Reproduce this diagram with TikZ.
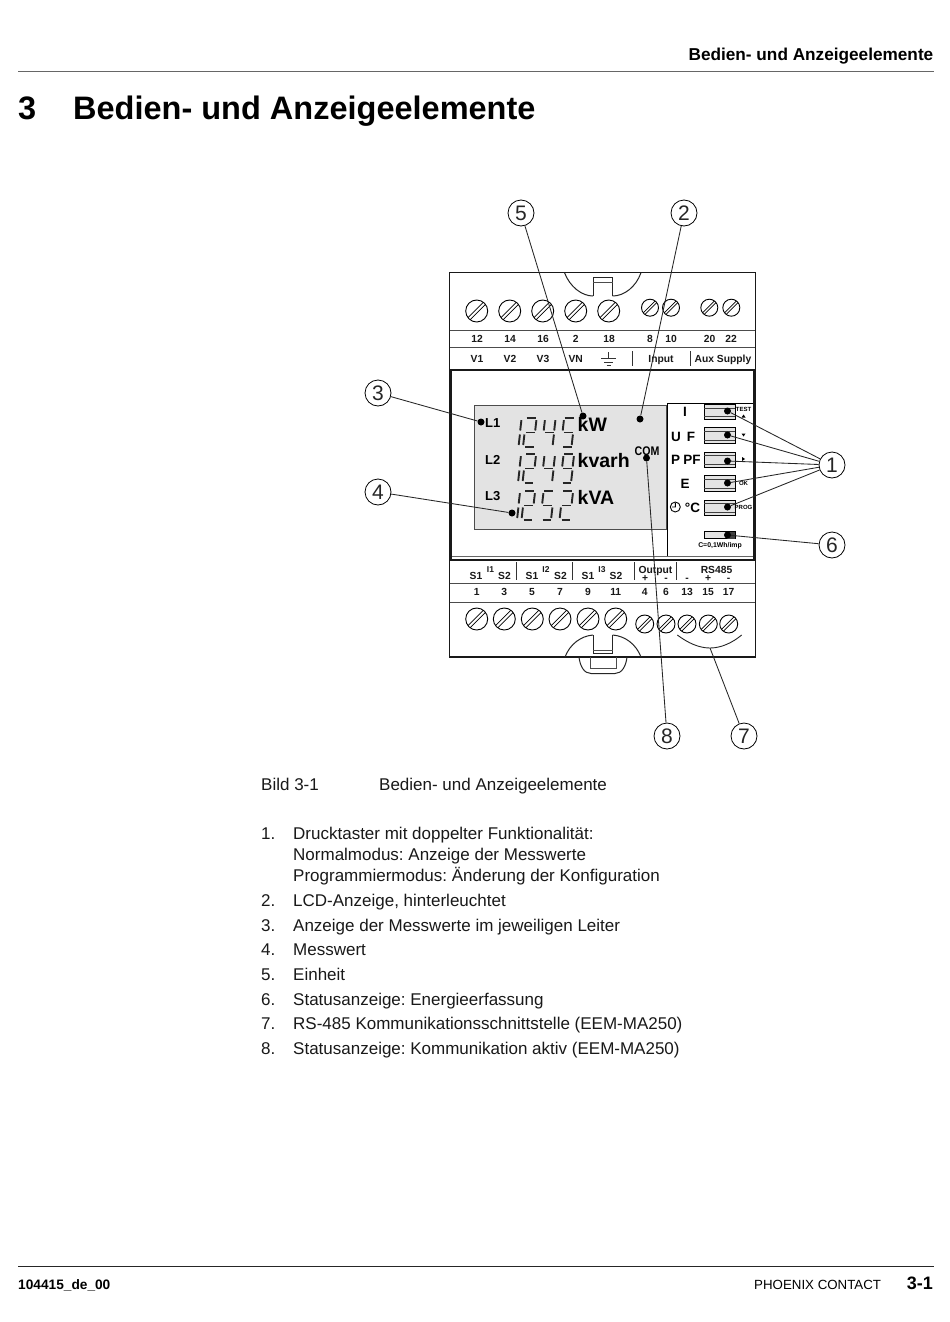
\documentclass[tikz,border=0pt]{standalone}
\usepackage{fontspec}
\setmainfont{Liberation Sans}
\frenchspacing
\newcommand{\fs}[1]{\fontsize{#1}{#1}\selectfont}
\newcommand{\screw}[3]{\begin{scope}[shift={(#1,#2)}]
 \draw[screwline,fill=white] (0,0) circle (#3);
 \draw[screwline,line width=0.7pt] (-#3*0.8,#3*0.6) -- (#3*0.6,-#3*0.8);
 \draw[screwline,line width=0.7pt] (-#3*0.6,#3*0.8) -- (#3*0.8,-#3*0.6);
\end{scope}}
\newcommand{\SgA}{\draw[sg] (3.6,0)--(12.6,0);}
\newcommand{\SgB}{\draw[sg] (13.4,2.2)--(12.2,12.5);}
\newcommand{\SgC}{\draw[sg] (11.9,16.5)--(10.7,27);}
\newcommand{\SgD}{\draw[sg] (2,29)--(10.5,29);}
\newcommand{\SgE}{\draw[sg] (1.4,16.5)--(0.2,27);}
\newcommand{\SgF}{\draw[sg] (2.9,2.2)--(1.7,12.5);}
\newcommand{\SgG}{\draw[sg] (2.8,14.5)--(11.5,14.5);}
\newcommand{\drow}[4]{\begin{scope}[shift={(#1,#2)}]
 \begin{scope}[shift={(508,0)}]\SgB\SgC\end{scope}
 \begin{scope}[shift={(523,0)}]\SgA\SgB\SgG\SgE\SgD\end{scope}
 \begin{scope}[shift={(542,0)}]#3\end{scope}
 \begin{scope}[shift={(561,0)}]#4\end{scope}
\end{scope}}
\newcommand{\btn}[2]{\draw[btnline,fill=lcdgray] (704,#1) rectangle (735,#2);
 \draw[line width=0.6pt,black!75] (704,#1+3.5) -- (735,#1+3.5);
 \draw[line width=0.6pt,black!75] (704,#2-3) -- (735,#2-3);}
\tikzset{x=1pt,y=-1pt,
 screwline/.style={line width=0.9pt,black},
 sg/.style={line width=1.9pt,black!85},
 btnline/.style={line width=0.9pt,black},
 dev/.style={line width=1pt,black!85},
 devthin/.style={line width=0.9pt,black!70},
 lbl/.style={font=\fs{10.3}\bfseries,anchor=base,inner sep=0pt,text=black!90},
 plbl/.style={font=\fs{13.5}\bfseries,anchor=base,inner sep=0pt},
 tiny/.style={font=\fs{6}\bfseries,anchor=base,inner sep=0pt,text=black},
 lcdlbl/.style={font=\fs{19.5}\bfseries,anchor=base west,inner sep=0pt},
 body/.style={font=\fs{17},anchor=base west,inner sep=0pt,text=black!90},
 callout/.style={circle,draw=black,line width=0.8pt,fill=white,minimum size=26pt,inner sep=0pt,font=\fs{21},text=black!85},
 lead/.style={line width=0.85pt,black!85},
 pt/.style={circle,fill=black,minimum size=7pt,inner sep=0pt},
 sep/.style={line width=0.9pt,black!80}}
\definecolor{lcdgray}{gray}{0.89}
\begin{document}
\begin{tikzpicture}
\useasboundingbox (0,0) rectangle (950,1322);
\fill[white] (0,0) rectangle (950,1322);
% page furniture
\node[font=\fs{17.2}\bfseries,anchor=base east,inner sep=0pt] (hdr) at (933.5,60.5) {Bedien- und Anzeigeelemente};
\draw[line width=0.9pt,black!60] (18,71.5) -- (934,71.5);
\node[font=\fs{32.5}\bfseries,anchor=base west,inner sep=0pt] (n3) at (18,119.5) {3};
\node[font=\fs{32.5}\bfseries,anchor=base west,inner sep=0pt] (title) at (73,119.5) {Bedien- und Anzeigeelemente};
\draw[line width=1pt,black!85] (18,1266.5) -- (934,1266.5);
\node[font=\fs{13.7}\bfseries,anchor=base west,inner sep=0pt] (f1) at (18,1289) {104415\_de\_00};
\node[font=\fs{13.3},anchor=base west,inner sep=0pt] (f2) at (754,1289) {PHOENIX CONTACT};
\node[font=\fs{18}\bfseries,anchor=base east,inner sep=0pt] (f3) at (933,1289) {3-1};
% device body
\draw[line width=1.4pt,black!90] (449.5,272.7) rectangle (755.3,657);
\draw[devthin] (449.5,330.7) -- (755.3,330.7);
\draw[devthin] (449.5,347.7) -- (755.3,347.7);
\draw[devthin] (449.5,583) -- (755.3,583);
\draw[devthin] (449.5,602) -- (755.3,602);
% top clip
\draw[dev] (564.5,272.7) .. controls (570,287) and (582,296) .. (593,296);
\draw[dev] (641,272.7) .. controls (636,287) and (624,296) .. (612.7,296);
\draw[dev] (593,296) -- (593,277.5) -- (612.7,277.5) -- (612.7,296);
\draw[devthin] (593,282) -- (612.7,282);
% bottom clip
\draw[dev] (565,657) .. controls (570,644) and (581,636) .. (593,635);
\draw[dev] (641,657) .. controls (636,644) and (625,636) .. (612.7,635);
\draw[dev] (593,635) -- (593,653) -- (612.7,653) -- (612.7,635);
\draw[devthin] (593,650) -- (612.7,650);
\draw[dev] (579,657) .. controls (580,666) and (584,673.5) .. (591,673.5) -- (615,673.5) .. controls (622,673.5) and (626,666) .. (627,657);
\draw[devthin] (590,657) -- (590,668) -- (616,668) -- (616,657);
% screws
\foreach \x in {476.7,509.7,542.7,575.7,608.7} {\screw{\x}{311}{11}}
\foreach \x in {650,671,709.3,731.3} {\screw{\x}{307.7}{8.5}}
\foreach \x in {476.7,504.3,532.3,560,588,615.7} {\screw{\x}{619}{11}}
\foreach \x in {644.7,666,687,708.3,728.7} {\screw{\x}{624}{9}}
% top labels
\foreach \x/\t in {477/12,510/14,543/16,575.7/2,609/18,650/8,671/10,709.7/20,731/22} {\node[lbl] at (\x,342.8) {\t};}
\foreach \x/\t in {477/V1,510/V2,543/V3,575.7/VN,661/Input,723/Aux Supply} {\node[lbl] at (\x,362) {\t};}
\draw[sep] (608.5,352) -- (608.5,358) (601,358) -- (616,358) (604,362) -- (613,362) (606.5,365.5) -- (610.5,365.5);
\draw[sep] (632,351) -- (632,366) (690.7,351) -- (690.7,366);
% lower labels
\foreach \x/\t in {476/S1,504.5/S2,532/S1,560.5/S2,588/S1,616/S2} {\node[lbl] at (\x,579) {\t};}
\foreach \x/\t in {490.5/I1,546/I2,602/I3} {\node[lbl,font=\fs{8.5}\bfseries] at (\x,572.5) {\t};}
\node[lbl] at (655.5,573) {Output};
\node[lbl] at (716.5,573) {RS485};
\foreach \x/\t in {645/+,666/-,687/-,708/+,728.7/-} {\node[lbl] at (\x,581.5) {\t};}
\foreach \x/\t in {476.7/1,504.3/3,532/5,560/7,588/9,615.7/11,644.7/4,666/6,687/13,708/15,728.7/17} {\node[lbl] at (\x,595.7) {\t};}
\draw[sep] (516.7,562) -- (516.7,580) (572,562) -- (572,580) (634.7,562) -- (634.7,580) (676.7,562) -- (676.7,580);
% display frame
\draw[line width=2.6pt,black!90] (451,370) rectangle (753.8,560);
\draw[line width=0.7pt,black!60] (452,556) -- (752.5,556);
% LCD
\draw[line width=0.9pt,black!70,fill=lcdgray] (474,405) rectangle (666.7,529);
% right panel
\draw[line width=1.1pt,black] (667.5,556) -- (667.5,403.3) -- (752.5,403.3);
% digits
\drow{0}{418}{\SgF\SgB\SgG\SgC}{\SgA\SgF\SgG\SgC\SgD}
\drow{-0.5}{454}{\SgF\SgB\SgG\SgC}{\SgA\SgF\SgB\SgG\SgC\SgD}
\drow{-1.5}{491}{\SgA\SgF\SgG\SgC\SgD}{\SgA\SgB\SgG\SgE\SgD}
% LCD labels
\foreach \y/\t in {427/L1,464/L2,500/L3} {\node[font=\fs{13}\bfseries,anchor=base west,inner sep=0pt] at (485,\y) {\t};}
\node[lcdlbl] at (577.5,431.5) {kW};
\node[lcdlbl] at (577.5,467) {kvarh};
\node[lcdlbl] at (577.5,504) {kVA};
\node[font=\fs{12.5}\bfseries,anchor=center,inner sep=0pt,xscale=0.85] at (647,451) {COM};
% panel labels
\node[plbl] at (685,416) {I};
\node[plbl] at (676,441) {U};
\node[plbl] at (691,441) {F};
\node[plbl] at (675.5,464) {P};
\node[plbl] at (692,464) {PF};
\node[plbl] at (685,488) {E};
\draw[line width=0.9pt] (675.3,507) circle (5) (675.3,503) -- (675.3,507) -- (672,507);
\node[plbl] at (692.5,512) {°C};
% buttons
\btn{404.3}{419}
\btn{427.7}{443}
\btn{452}{467}
\btn{475.7}{491}
\btn{500}{515.7}
\draw[btnline,fill=lcdgray] (704,531.7) rectangle (735,538.7);
\fill[black!75] (727,532) rectangle (735,538.5);
\node[tiny] at (743.5,411) {TEST};
\fill[black] (741.5,417.5) -- (745.5,417.5) -- (743.5,414.5) -- cycle;
\fill[black] (741.5,433.5) -- (745.5,433.5) -- (743.5,436.5) -- cycle;
\fill[black] (742,457) -- (742,461) -- (745,459) -- cycle;
\node[tiny] at (743.5,485) {OK};
\node[tiny] at (743.5,509) {PROG};
\node[tiny,font=\fs{6.9}\bfseries] at (720,547.5) {C=0,1Wh/imp};
% RS-485 arc
\coordinate (arcc) at (710,648);
\draw[line width=0.9pt,black!85] (677.3,635) .. controls (688,643) and (699,648) .. (arcc) .. controls (721,648) and (732,643) .. (741.7,635);
% dots
\node[pt] (d5) at (583,416) {};
\node[pt] (d2) at (640,419) {};
\node[pt] (d3) at (481,422) {};
\node[pt] (d4) at (512,513) {};
\node[pt] (d8) at (646.5,458) {};
\node[pt] (b1) at (727.5,411) {};
\node[pt] (b2) at (727.5,435) {};
\node[pt] (b3) at (727.5,461) {};
\node[pt] (b4) at (727.5,483) {};
\node[pt] (b5) at (727.5,507) {};
\node[pt] (b6) at (727.5,535) {};
% callouts
\node[callout] (c5) at (521,213) {5};
\node[callout] (c2) at (684,213) {2};
\node[callout] (c3) at (378,393) {3};
\node[callout] (c4) at (378,492) {4};
\node[callout] (c1) at (832,465) {1};
\node[callout] (c6) at (832,545) {6};
\node[callout] (c8) at (667,736) {8};
\node[callout] (c7) at (744,736) {7};
\draw[lead] (c5) -- (d5);
\draw[lead] (c2) -- (d2);
\draw[lead] (c3) -- (d3);
\draw[lead] (c4) -- (d4);
\draw[lead] (c8) -- (d8);
\draw[lead] (c7) -- (arcc);
\draw[lead] (c6) -- (b6);
\foreach \bb in {b1,b2,b3,b4,b5} {\draw[lead] (c1) -- (\bb);}
% caption + list
\node[body] (cap1) at (261,790) {Bild 3-1};
\node[body] (cap2) at (379,790) {Bedien- und Anzeigeelemente};
\foreach \y/\n/\t in {
 839/1./Drucktaster mit doppelter Funktionalität:,
 906/2./{LCD-Anzeige, hinterleuchtet},
 931/3./Anzeige der Messwerte im jeweiligen Leiter,
 955/4./Messwert,
 980/5./Einheit,
 1005/6./Statusanzeige: Energieerfassung,
 1029/7./RS-485 Kommunikationsschnittstelle (EEM-MA250),
 1054/8./Statusanzeige: Kommunikation aktiv (EEM-MA250)}
 {\node[body] at (261,\y) {\n}; \node[body] at (293,\y) {\t};}
\node[body] at (293,860) {Normalmodus: Anzeige der Messwerte};
\node[body] at (293,881) {Programmiermodus: Änderung der Konfiguration};
\end{tikzpicture}
\end{document}
